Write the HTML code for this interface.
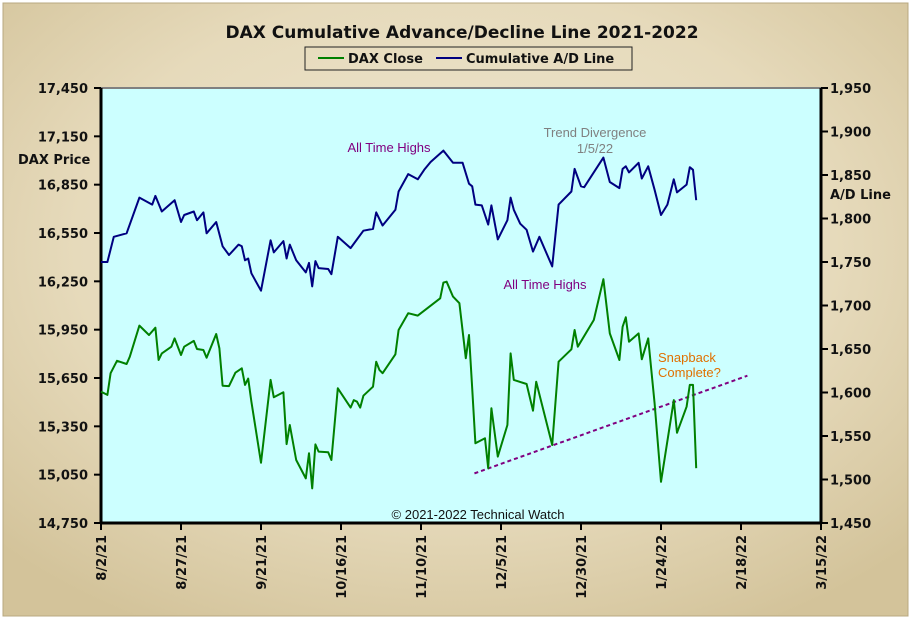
<!DOCTYPE html>
<html><head><meta charset="utf-8"><style>
html,body{margin:0;padding:0;background:#fff;}
svg{display:block;}
text{font-family:"DejaVu Sans","Liberation Sans",sans-serif;}
text.ann{font-family:"Liberation Sans",Arial,sans-serif;}
</style></head><body>
<svg id="chart" width="911" height="623" viewBox="0 0 911 623" xmlns="http://www.w3.org/2000/svg">
<defs>
<radialGradient id="bg" cx="50%" cy="40%" r="70%">
<stop offset="0" stop-color="#EEE7D2"/><stop offset="0.6" stop-color="#E6DABB"/><stop offset="1" stop-color="#D3C39A"/>
</radialGradient>
</defs>
<rect x="0" y="0" width="911" height="623" fill="#fff"/>
<rect x="3" y="3" width="905" height="613" fill="url(#bg)" stroke="#B8A880"/>
<text x="462" y="38" text-anchor="middle" font-size="17" font-weight="bold" fill="#111">DAX Cumulative  Advance/Decline  Line  2021-2022</text>
<g>
<rect x="305" y="47" width="327" height="23" fill="none" stroke="#222"/>
<line x1="318" y1="58" x2="344" y2="58" stroke="#008000" stroke-width="2"/>
<text x="348" y="63" font-size="13" font-weight="bold" fill="#111">DAX Close</text>
<line x1="436" y1="58" x2="462" y2="58" stroke="#000080" stroke-width="2"/>
<text x="466" y="63" font-size="13" font-weight="bold" fill="#111">Cumulative A/D Line</text>
</g>
<rect x="101" y="88" width="720" height="435" fill="#CCFFFF"/>
<line x1="101" y1="88" x2="821" y2="88" stroke="#808080" stroke-width="2"/>
<g id="axes"></g>
<g id="series"></g>
<text x="18" y="164" font-size="13" font-weight="bold" fill="#111">DAX Price</text>
<text x="830" y="199" font-size="13" font-weight="bold" fill="#111">A/D Line</text>
<text class="ann" x="389" y="152" font-size="13" fill="#800080" text-anchor="middle">All Time  Highs</text>
<text class="ann" x="545" y="289" font-size="13" fill="#800080" text-anchor="middle">All Time Highs</text>
<text class="ann" x="595" y="137" font-size="13" fill="#808080" text-anchor="middle">Trend Divergence</text>
<text class="ann" x="595" y="153" font-size="13" fill="#808080" text-anchor="middle">1/5/22</text>
<text class="ann" x="658" y="362" font-size="13" fill="#E07000">Snapback</text>
<text class="ann" x="658" y="377" font-size="13" fill="#E07000">Complete?</text>
<text class="ann" x="478" y="519" font-size="13" fill="#111" text-anchor="middle">© 2021-2022  Technical Watch</text>
</svg>
<script>
const xTickLabels=["8/2/21","8/27/21","9/21/21","10/16/21","11/10/21","12/5/21","12/30/21","1/24/22","2/18/22","3/15/22"];
const leftTicks=[14750,15050,15350,15650,15950,16250,16550,16850,17150,17450];
const rightTicks=[1450,1500,1550,1600,1650,1700,1750,1800,1850,1900,1950];
const daxDays=[0,2,3,5,8,9,12,15,17,18,19,22,23,25,26,29,30,32,33,36,37,38,40,42,44,45,46,47,50,53,54,57,58,59,61,64,65,66,67,68,71,72,74,78,79,80,81,82,85,86,87,88,92,93,96,99,102,106,107,108,110,112,114,115,116,117,120,121,122,124,127,128,129,133,135,136,141,143,147,148,149,154,157,159,162,163,164,165,168,169,171,173,175,179,180,183,184,185,186];
const daxClose=[15565,15545,15680,15757,15737,15782,15975,15917,15962,15762,15803,15844,15896,15793,15844,15880,15830,15824,15776,15923,15834,15602,15600,15683,15710,15607,15646,15503,15124,15638,15530,15561,15240,15358,15141,15027,15183,14965,15238,15193,15189,15141,15586,15466,15513,15503,15466,15540,15596,15751,15700,15680,15797,15948,16052,16037,16083,16145,16242,16248,16155,16114,15772,15917,15586,15245,15276,15090,15462,15162,15358,15803,15638,15613,15447,15627,15234,15751,15828,15948,15844,16010,16263,15927,15762,15968,16027,15875,15927,15766,15896,15493,15006,15513,15310,15472,15607,15607,15090];
const adDays=[0,2,4,8,12,16,17,19,23,25,26,29,30,32,33,36,38,40,43,44,45,46,47,50,53,54,57,58,59,61,64,65,66,67,68,71,72,74,78,80,82,85,86,88,92,93,96,99,101,103,107,110,113,115,116,117,119,121,122,124,127,128,129,131,133,135,137,141,143,147,148,150,151,157,159,162,163,164,165,168,169,171,173,175,177,179,180,183,184,185,186];
const adLine=[1750,1750,1779,1783,1824,1816,1826,1808,1821,1796,1804,1808,1798,1807,1783,1796,1768,1758,1770,1768,1752,1754,1737,1717,1775,1761,1774,1754,1770,1752,1738,1749,1722,1751,1743,1742,1736,1779,1766,1776,1786,1788,1807,1792,1810,1831,1851,1845,1856,1865,1878,1864,1864,1840,1837,1816,1815,1793,1815,1776,1798,1824,1810,1794,1787,1762,1779,1745,1816,1831,1857,1837,1836,1870,1842,1835,1857,1860,1853,1864,1846,1860,1833,1804,1816,1845,1830,1839,1859,1856,1821];
const trendDays=[116.7,202];
const trendValues=[15058,15664];

const NS="http://www.w3.org/2000/svg";
const X0=101,X1=821,Y0=523,Y1=88,TOTAL=225;
const xScale=d=>X0+(d/TOTAL)*(X1-X0);
const yL=v=>Y0-(v-14750)/(17450-14750)*(Y0-Y1);
const yR=v=>Y0-(v-1450)/(1950-1450)*(Y0-Y1);
function mk(tag,attrs,parent){const e=document.createElementNS(NS,tag);for(const k in attrs)e.setAttribute(k,attrs[k]);parent.appendChild(e);return e;}
const axes=document.getElementById('axes');
const ser=document.getElementById('series');

let ax=mk('line',{x1:X0,y1:Y1,x2:X0,y2:Y0+1,stroke:'#000','stroke-width':3},axes);


ax=mk('line',{x1:X1,y1:Y1,x2:X1,y2:Y0+1,stroke:'#000','stroke-width':3},axes);


ax=mk('line',{x1:X0-1,y1:Y0,x2:X1+1,y2:Y0,stroke:'#000','stroke-width':3},axes);



leftTicks.forEach(v=>{const y=yL(v);
mk('line',{x1:X0-7,y1:y,x2:X0,y2:y,stroke:'#000','stroke-width':2},axes);
const t=mk('text',{x:X0-13,y:y+5,'text-anchor':'end','font-size':13,'font-weight':'bold',fill:'#111'},axes);
t.textContent=v.toLocaleString('en-US');

});
rightTicks.forEach(v=>{const y=yR(v);
mk('line',{x1:X1,y1:y,x2:X1+7,y2:y,stroke:'#000','stroke-width':2},axes);
const t=mk('text',{x:X1+9,y:y+5,'font-size':13,'font-weight':'bold',fill:'#111'},axes);
t.textContent=v.toLocaleString('en-US');

});
xTickLabels.forEach((s,i)=>{const x=xScale(i*25);
mk('line',{x1:x,y1:Y0,x2:x,y2:Y0+7,stroke:'#000','stroke-width':2},axes);
const t=mk('text',{x:0,y:0,'text-anchor':'end','font-size':13,'font-weight':'bold',fill:'#111',transform:`translate(${x+5},${Y0+12}) rotate(-90)`},axes);
t.textContent=s;

});

const tr=mk('line',{x1:xScale(trendDays[0]),y1:yL(trendValues[0]),x2:xScale(trendDays[1]),y2:yL(trendValues[1]),stroke:'#800080','stroke-width':2,'stroke-dasharray':'4,3'},ser);



const adP=mk('polyline',{points:adDays.map((d,i)=>xScale(d).toFixed(1)+','+yR(adLine[i]).toFixed(1)).join(' '),fill:'none',stroke:'#000080','stroke-width':2,'stroke-linejoin':'round'},ser);


const dxP=mk('polyline',{points:daxDays.map((d,i)=>xScale(d).toFixed(1)+','+yL(daxClose[i]).toFixed(1)).join(' '),fill:'none',stroke:'#008000','stroke-width':2,'stroke-linejoin':'round'},ser);


</script>
</body></html>
